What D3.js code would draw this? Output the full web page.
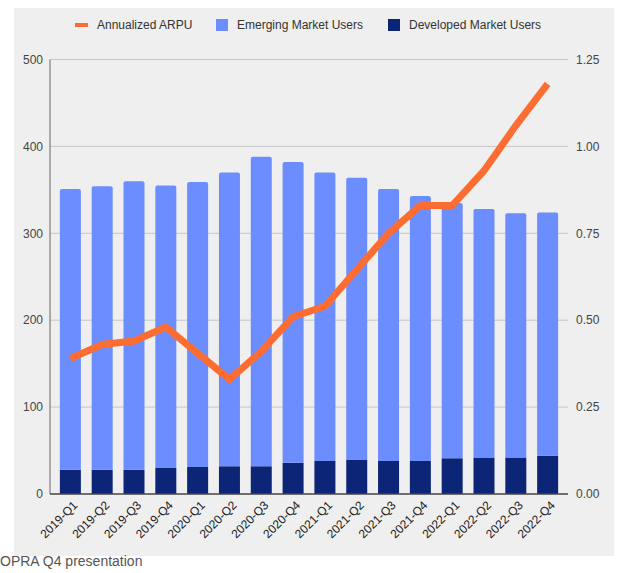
<!DOCTYPE html>
<html>
<head>
<meta charset="utf-8">
<script src="https://cdn.jsdelivr.net/npm/d3@7"></script>
<style>
  body { margin: 0; background: #fff; }
  text { font-family: "Liberation Sans", Arial, sans-serif; }
</style>
</head>
<body>
<div id="chart"></div>
<script>
const quarters = ["2019-Q1", "2019-Q2", "2019-Q3", "2019-Q4", "2020-Q1", "2020-Q2", "2020-Q3", "2020-Q4",
  "2021-Q1", "2021-Q2", "2021-Q3", "2021-Q4", "2022-Q1", "2022-Q2", "2022-Q3", "2022-Q4"];
const developedUsers = [28, 28, 28, 30, 31, 32, 32, 36, 38, 39, 38, 38, 41, 42, 42, 44];
const emergingUsers = [323, 326, 332, 325, 328, 338, 356, 346, 332, 325, 313, 305, 294, 286, 281, 280];
const arpu = [0.39, 0.43, 0.44, 0.48, 0.405, 0.33, 0.41, 0.51, 0.54, 0.645, 0.75, 0.83, 0.83, 0.93, 1.06, 1.18];
const leftTicks = [0, 100, 200, 300, 400, 500];
const rightTicks = [0, 0.25, 0.5, 0.75, 1.0, 1.25];

const W = 639, H = 573;
const m = { left: 50, right: 568, top: 59.5, bottom: 494 };
const colors = { arpu: "#fd6d31", emerging: "#6b8dfd", developed: "#0c2577" };

const svg = d3.select("#chart").append("svg")
  .attr("width", W).attr("height", H);

svg.append("rect")
  .attr("x", 14).attr("y", 8).attr("width", 600).attr("height", 548)
  .attr("fill", "#efefef");

const x = d3.scaleBand().domain(quarters)
  .range([m.left, m.right]).paddingInner(0.34).paddingOuter(0.31);
const yL = d3.scaleLinear().domain([0, 500]).range([m.bottom, m.top]);
const yR = d3.scaleLinear().domain([0, 1.25]).range([m.bottom, m.top]);

// gridlines
svg.append("g").selectAll("line")
  .data(leftTicks.slice(1))
  .join("line")
  .attr("x1", m.left).attr("x2", m.right)
  .attr("y1", d => yL(d)).attr("y2", d => yL(d))
  .attr("stroke", "#c6c6c6").attr("stroke-width", 1);

// left tick labels
svg.append("g").selectAll("text")
  .data(leftTicks)
  .join("text")
  .attr("x", 43).attr("y", d => yL(d)).attr("dy", "0.35em")
  .attr("text-anchor", "end").attr("font-size", 12).attr("fill", "#444")
  .text(d => d);

// right tick labels
svg.append("g").selectAll("text")
  .data(rightTicks)
  .join("text")
  .attr("x", 576).attr("y", d => yR(d)).attr("dy", "0.35em")
  .attr("text-anchor", "start").attr("font-size", 12).attr("fill", "#444")
  .text(d => d.toFixed(2));

// stacked bars
const rows = quarters.map((q, i) => ({ q, developed: developedUsers[i], emerging: emergingUsers[i] }));
const stack = d3.stack().keys(["developed", "emerging"])(rows);

const layers = svg.append("g").selectAll("g")
  .data(stack)
  .join("g")
  .attr("fill", d => colors[d.key]);

layers.selectAll("path")
  .data(d => d.map(v => ({ key: d.key, v })))
  .join("path")
  .attr("d", d => {
    const x0 = x(d.v.data.q), w = x.bandwidth();
    const top = yL(d.v[1]), bot = yL(d.v[0]);
    const r = d.key === "emerging" ? 2 : 0;
    return `M${x0},${bot}V${top + r}Q${x0},${top} ${x0 + r},${top}H${x0 + w - r}Q${x0 + w},${top} ${x0 + w},${top + r}V${bot}Z`;
  });

// axes lines
svg.append("line")
  .attr("x1", m.left).attr("x2", m.left).attr("y1", m.top).attr("y2", m.bottom)
  .attr("stroke", "#666").attr("stroke-width", 1);
svg.append("line")
  .attr("x1", m.left).attr("x2", m.right).attr("y1", m.bottom).attr("y2", m.bottom)
  .attr("stroke", "#444").attr("stroke-width", 1.5);

// ARPU line
const line = d3.line()
  .x((d, i) => x(quarters[i]) + x.bandwidth() / 2)
  .y(d => yR(d));
svg.append("path")
  .datum(arpu)
  .attr("d", line)
  .attr("fill", "none")
  .attr("stroke", colors.arpu)
  .attr("stroke-width", 7)
  .attr("stroke-linejoin", "miter");

// x labels
svg.append("g").selectAll("text")
  .data(quarters)
  .join("text")
  .attr("transform", d => `translate(${x(d) + x.bandwidth() / 2 + 5},${m.bottom + 9}) rotate(-45)`)
  .attr("text-anchor", "end").attr("dy", "0.35em")
  .attr("font-size", 12).attr("fill", "#222")
  .text(d => d);

// legend
const legend = svg.append("g").attr("font-size", 12).attr("fill", "#333");
legend.append("rect").attr("x", 75).attr("y", 23).attr("width", 13).attr("height", 4).attr("fill", colors.arpu);
legend.append("text").attr("x", 97).attr("y", 25).attr("dy", "0.35em").text("Annualized ARPU");
legend.append("rect").attr("x", 216).attr("y", 19).attr("width", 12).attr("height", 12).attr("fill", colors.emerging);
legend.append("text").attr("x", 237).attr("y", 25).attr("dy", "0.35em").text("Emerging Market Users");
legend.append("rect").attr("x", 388).attr("y", 19).attr("width", 12).attr("height", 12).attr("fill", colors.developed);
legend.append("text").attr("x", 409).attr("y", 25).attr("dy", "0.35em").text("Developed Market Users");

// caption
svg.append("text")
  .attr("x", 0).attr("y", 566)
  .attr("font-size", 14).attr("fill", "#555")
  .text("OPRA Q4 presentation");
</script>
</body>
</html>
